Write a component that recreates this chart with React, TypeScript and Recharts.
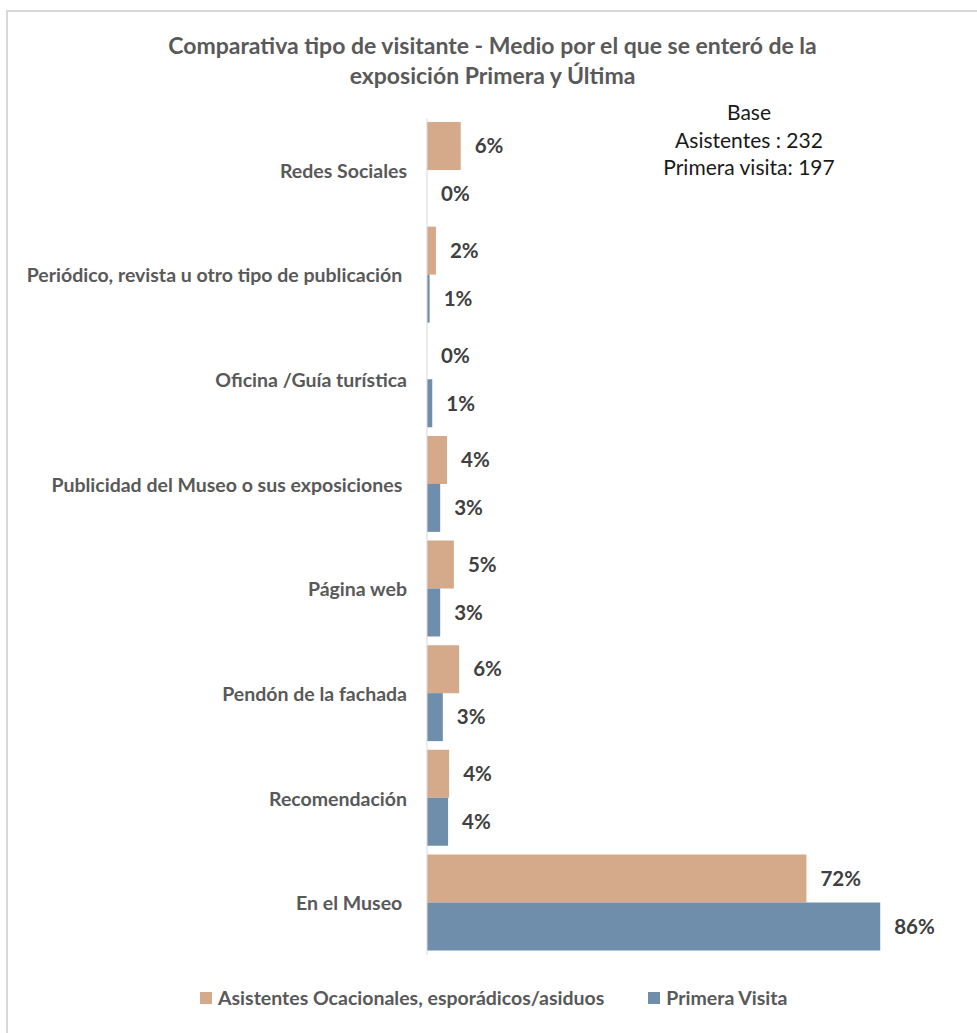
import React from 'react';
import { BarChart, Bar, XAxis, YAxis, LabelList } from 'recharts';

const categories = [
  'Redes Sociales',
  'Periódico, revista u otro tipo de publicación ',
  'Oficina /Guía turística',
  'Publicidad del Museo o sus exposiciones ',
  'Página web',
  'Pendón de la fachada',
  'Recomendación',
  'En el Museo ',
];

// porcentajes
const asistentes = [6.4, 1.7, 0, 3.8, 5.1, 6.1, 4.2, 72];
const primeraVisita = [0, 0.5, 1, 2.5, 2.5, 3, 4, 86];

const seriesNames = ['Asistentes Ocacionales, esporádicos/asiduos', 'Primera Visita'];
const seriesColors = ['#D5AA8B', '#6E8EAB'];

const baseLines = ['Base', 'Asistentes : 232', 'Primera visita: 197'];

const FONT = 'Lato, "Open Sans", sans-serif';

const data = categories.map((name, i) => ({
  name,
  asistentes: asistentes[i],
  primera: primeraVisita[i],
}));

const pct = (v: any) => `${Math.round(Number(v))}%`;
// so that 0% bars still get their label
const minSize = (v: any) => (Number(v) === 0 ? 0.01 : 0);

function CategoryTick(props: any) {
  const { x, y, payload } = props;
  return (
    <text
      x={x}
      y={y}
      textAnchor="end"
      dominantBaseline="central"
      fill="#595959"
      fontSize={19.5}
      fontWeight="bold"
      fontFamily={FONT}
      style={{ whiteSpace: 'pre' }}
    >
      {payload.value}
    </text>
  );
}

export default function App() {
  return (
    <div style={{ position: 'absolute', left: 0, top: 0, width: 977, height: 1033, background: '#fff', fontFamily: FONT }}>
      <div
        style={{
          position: 'absolute',
          left: 6,
          top: 10,
          width: 969,
          height: 1021,
          borderTop: '2px solid #d9d9d9',
          borderLeft: '2px solid #d9d9d9',
        }}
      />
      <div
        style={{
          position: 'absolute',
          left: 0,
          top: 30,
          width: 985,
          textAlign: 'center',
          color: '#595959',
          fontSize: 23,
          fontWeight: 'bold',
          lineHeight: '30px',
        }}
      >
        Comparativa tipo de visitante - Medio por el que se enteró de la
        <br />
        exposición Primera y Última
      </div>
      <div
        style={{
          position: 'absolute',
          left: 639,
          top: 98,
          width: 220,
          textAlign: 'center',
          color: '#1a1a1a',
          fontSize: 21,
          lineHeight: '27.5px',
        }}
      >
        {baseLines.map((l) => (
          <div key={l}>{l}</div>
        ))}
      </div>

      <div style={{ position: 'absolute', left: 0, top: 0 }}>
        <BarChart
          width={977}
          height={1033}
          data={data}
          layout="vertical"
          margin={{ top: 118, right: 23, bottom: 78, left: 0 }}
          barSize={48}
          barGap={0}
        >
          <XAxis type="number" domain={[0, 100]} hide />
          <YAxis
            type="category"
            dataKey="name"
            width={427}
            axisLine={{ stroke: '#d9d9d9' }}
            tickLine={false}
            tickSize={0}
            tickMargin={20}
            tick={<CategoryTick />}
            interval={0}
          />
          <Bar dataKey="asistentes" fill={seriesColors[0]} minPointSize={minSize} isAnimationActive={false}>
            <LabelList
              dataKey="asistentes"
              position="right"
              offset={14}
              formatter={pct}
              fill="#404040"
              fontSize={20.5}
              fontWeight="bold"
              fontFamily={FONT}
            />
          </Bar>
          <Bar dataKey="primera" fill={seriesColors[1]} minPointSize={minSize} isAnimationActive={false}>
            <LabelList
              dataKey="primera"
              position="right"
              offset={14}
              formatter={pct}
              fill="#404040"
              fontSize={20.5}
              fontWeight="bold"
              fontFamily={FONT}
            />
          </Bar>
        </BarChart>
      </div>

      {/* leyenda */}
      <div
        style={{
          position: 'absolute',
          left: 200,
          top: 986,
          display: 'flex',
          alignItems: 'center',
          color: '#595959',
          fontSize: 19.5,
          fontWeight: 'bold',
        }}
      >
        {seriesNames.map((n, i) => (
          <div key={n} style={{ display: 'flex', alignItems: 'center', marginRight: 44 }}>
            <span style={{ width: 12, height: 12, background: seriesColors[i], marginRight: 6, display: 'inline-block' }} />
            <span>{n}</span>
          </div>
        ))}
      </div>
    </div>
  );
}
